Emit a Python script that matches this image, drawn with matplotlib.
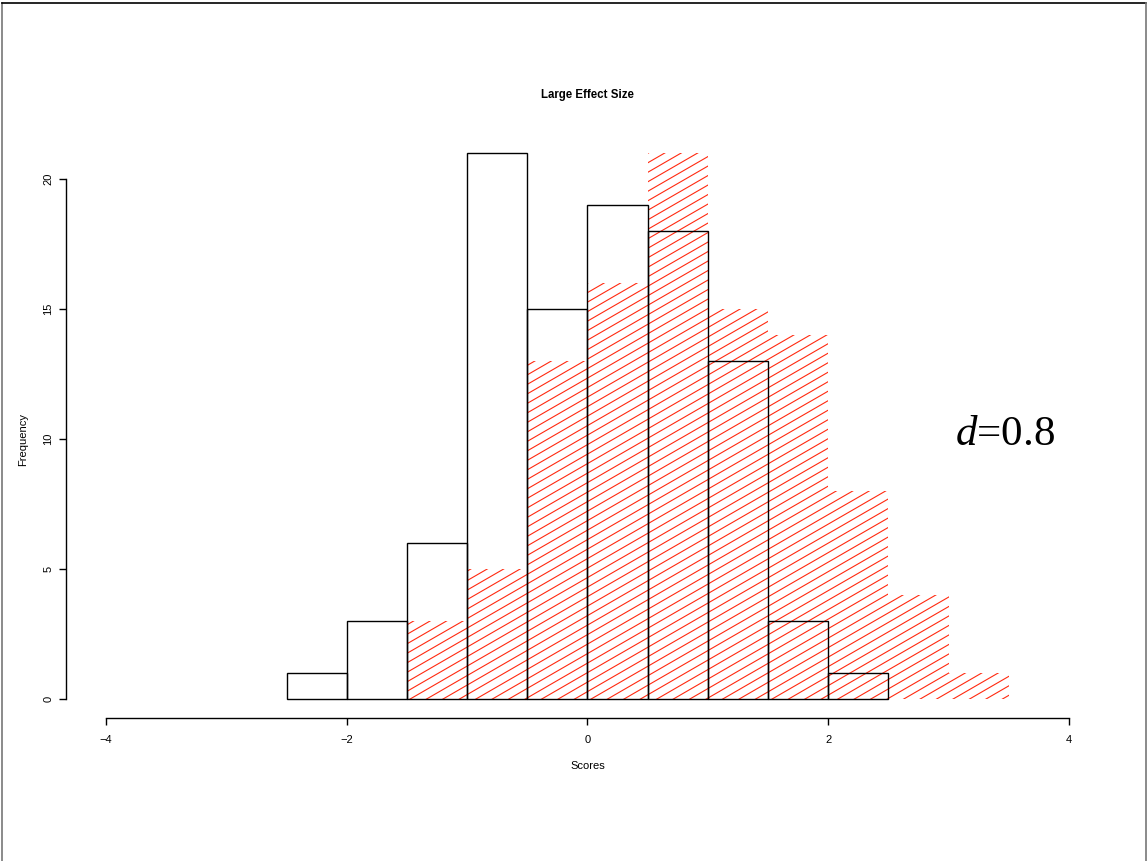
import numpy as np
import matplotlib
matplotlib.use("Agg")
import matplotlib.pyplot as plt
from matplotlib.patches import Rectangle
from matplotlib.collections import LineCollection
from matplotlib.lines import Line2D
from matplotlib import font_manager as fm

# ---- data ----
bin_edges = [-2.5, -2.0, -1.5, -1.0, -0.5, 0.0, 0.5, 1.0, 1.5, 2.0, 2.5, 3.0, 3.5]
group1_counts = [1, 3, 6, 21, 15, 19, 18, 13, 3, 1, 0, 0]   # black outlined
group2_counts = [0, 0, 3, 5, 13, 16, 21, 15, 14, 8, 4, 1]   # red hatched
x_ticks = [-4, -2, 0, 2, 4]
y_ticks = [0, 5, 10, 15, 20]
title = "Large Effect Size"
xlabel = "Scores"
ylabel = "Frequency"
annotation = "$d$=0.8"


def find_font(fragment):
    for f in fm.fontManager.ttflist:
        if fragment.lower() in f.fname.lower().replace('\\', '/').split('/')[-1]:
            return f.fname
    return None


reg_file = find_font('LiberationSans-Regular')
bold_file = find_font('LiberationSans-Bold.')
fp_reg = fm.FontProperties(fname=reg_file, size=8) if reg_file else fm.FontProperties(family='DejaVu Sans', size=8)
fp_bold = fm.FontProperties(fname=bold_file, size=8.3) if bold_file else fm.FontProperties(family='DejaVu Sans', weight='bold', size=8.3)

plt.rcParams['mathtext.fontset'] = 'custom'
plt.rcParams['mathtext.it'] = 'Liberation Serif:italic'
plt.rcParams['mathtext.rm'] = 'Liberation Serif'

W, H = 1148, 861
fig = plt.figure(figsize=(W / 100, H / 100), dpi=100)
left, right, bottom, top = 66 / W, 1108 / W, 1 - 718 / H, 1 - 131 / H
ax = fig.add_axes([left, bottom, right - left, top - bottom])
XL = (-4.332, 4.324)
YL = (-0.731, 21.846)
ax.set_xlim(*XL)
ax.set_ylim(*YL)

for s in ['top', 'right']:
    ax.spines[s].set_visible(False)
ax.spines['left'].set_bounds(0, 20)
ax.spines['bottom'].set_bounds(-4, 4)
for s in ['left', 'bottom']:
    ax.spines[s].set_linewidth(1.0)
    ax.spines[s].set_color('black')

ax.set_xticks(x_ticks)
ax.set_xticklabels([str(t).replace('-', '\u2212') for t in x_ticks], fontproperties=fp_reg)
ax.set_yticks(y_ticks)
ax.set_yticklabels([str(t) for t in y_ticks], rotation=90, va='center', fontproperties=fp_reg)
ax.tick_params(axis='both', length=5, width=1.0, color='black')
ax.tick_params(axis='x', pad=7)
ax.tick_params(axis='y', pad=4)

fig.canvas.draw()

# red hatched bars (no border), hatch lines at ~30 degrees
angle = np.deg2rad(30)
spacing_v = 9.5  # px vertical between hatch lines
cs = np.arange(-W * np.tan(angle) - 20, H + 20, spacing_v)
inv = ax.transData.inverted()
for i, c in enumerate(group2_counts):
    if c <= 0:
        continue
    rect = Rectangle((bin_edges[i], 0), bin_edges[i + 1] - bin_edges[i], c,
                     facecolor='none', edgecolor='none')
    ax.add_patch(rect)
    segs = [inv.transform([(0, cc), (W, cc + W * np.tan(angle))]) for cc in cs]
    lc = LineCollection(segs, colors='#ff2a10', linewidths=0.8)
    ax.add_collection(lc)
    lc.set_clip_path(rect)

# black outlined bars
for i, c in enumerate(group1_counts):
    if c <= 0:
        continue
    ax.add_patch(Rectangle((bin_edges[i], 0), bin_edges[i + 1] - bin_edges[i], c,
                           facecolor='none', edgecolor='black', linewidth=1.0, zorder=3))

ax.set_xlim(*XL)
ax.set_ylim(*YL)

fig.text(587.5 / W, 1 - 95 / H, title, ha='center', va='center', fontproperties=fp_bold)
fig.text(587.5 / W, 1 - 766 / H, xlabel, ha='center', va='center', fontproperties=fp_reg)
fig.text(23 / W, 1 - 439 / H, ylabel, ha='center', va='center', rotation=90, fontproperties=fp_reg)

ax.text(3.052, 9.77, annotation, ha='left', va='baseline', fontsize=31,
        family='Liberation Serif')

# figure border
fig.add_artist(Line2D([2 / W, 2 / W], [0, 1 - 3 / H], color='#777777', linewidth=1.2))
fig.add_artist(Line2D([2 / W, 1 - 2 / W], [1 - 3 / H, 1 - 3 / H], color='black', linewidth=1.2))
fig.add_artist(Line2D([1 - 2 / W, 1 - 2 / W], [0, 1 - 3 / H], color='#777777', linewidth=1.2))

fig.savefig('out.png', dpi=100)
